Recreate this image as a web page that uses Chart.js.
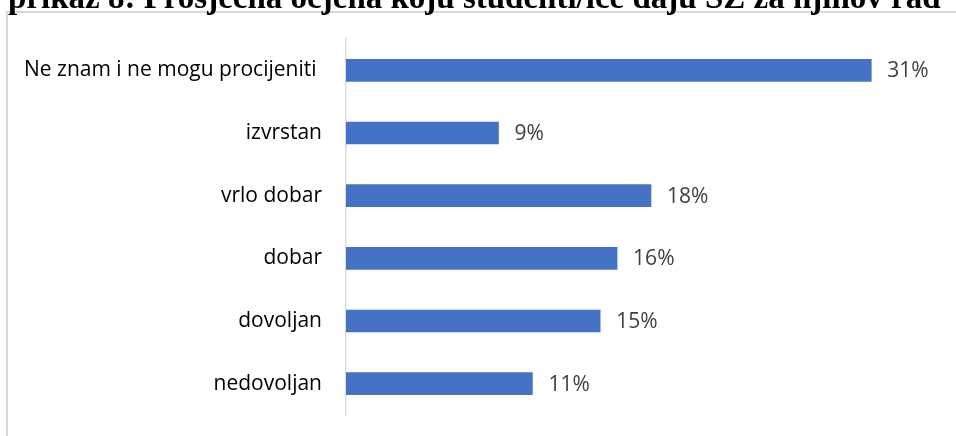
<!DOCTYPE html>
<html>
<head>
<meta charset="utf-8">
<script src="https://cdn.jsdelivr.net/npm/chart.js@4"></script>
<style>
html,body{margin:0;padding:0;background:#fff;}
#wrap{position:relative;width:956px;height:436px;overflow:hidden;}
canvas{display:block;}
</style>
</head>
<body>
<div id="wrap"><canvas id="c" width="956" height="436"></canvas></div>
<script>
const titleText = 'prikaz 8: Prosječna ocjena koju studenti/ice daju SZ za njihov rad';
const categories = ['Ne znam i ne mogu procijeniti ', 'izvrstan', 'vrlo dobar', 'dobar', 'dovoljan', 'nedovoljan'];
const values = [31, 9, 18, 16, 15, 11];
const valueLabels = ['31%', '9%', '18%', '16%', '15%', '11%'];

const framePlugin = {
  id: 'frame',
  beforeDraw(chart) {
    const ctx = chart.ctx;
    ctx.save();
    ctx.fillStyle = '#fff';
    ctx.fillRect(0, 0, chart.width, chart.height);
    ctx.strokeStyle = '#d9d9d9';
    ctx.lineWidth = 2;
    ctx.beginPath();
    ctx.moveTo(6, 12); ctx.lineTo(chart.width, 12);
    ctx.moveTo(7, 12); ctx.lineTo(7, chart.height);
    ctx.stroke();
    ctx.fillStyle = '#000';
    ctx.font = 'bold 33px "Liberation Serif", "Times New Roman", serif';
    ctx.textBaseline = 'alphabetic';
    ctx.textAlign = 'left';
    ctx.fillText(titleText, 8, 8);
    ctx.restore();
  }
};

const valuePlugin = {
  id: 'vals',
  afterDatasetsDraw(chart) {
    const ctx = chart.ctx;
    const meta = chart.getDatasetMeta(0);
    ctx.save();
    ctx.fillStyle = '#404040';
    ctx.font = '21px "Open Sans", sans-serif';
    ctx.textBaseline = 'middle';
    ctx.textAlign = 'left';
    meta.data.forEach((bar, i) => {
      ctx.fillText(valueLabels[i], bar.x + 16, bar.y + 1);
    });
    ctx.restore();
  }
};

new Chart(document.getElementById('c'), {
  type: 'bar',
  data: {
    labels: categories,
    datasets: [{
      data: values,
      backgroundColor: '#4472C4',
      borderWidth: 0,
      barThickness: 22
    }]
  },
  options: {
    indexAxis: 'y',
    responsive: false,
    animation: false,
    layout: { padding: { top: 39, bottom: 21, left: 0, right: 0 } },
    plugins: { legend: { display: false }, tooltip: { enabled: false }, title: { display: false } },
    scales: {
      x: { display: false, min: 0, max: 36 },
      y: {
        afterFit(s) { s.width = 346; s.paddingTop = 0; s.paddingBottom = 0; },
        grid: { display: false, drawTicks: false },
        border: { display: true, color: '#d9d9d9', width: 1.5 },
        ticks: { color: '#000', padding: 24, font: { family: '"Open Sans", sans-serif', size: 21 } }
      }
    }
  },
  plugins: [framePlugin, valuePlugin]
});
</script>
</body>
</html>
